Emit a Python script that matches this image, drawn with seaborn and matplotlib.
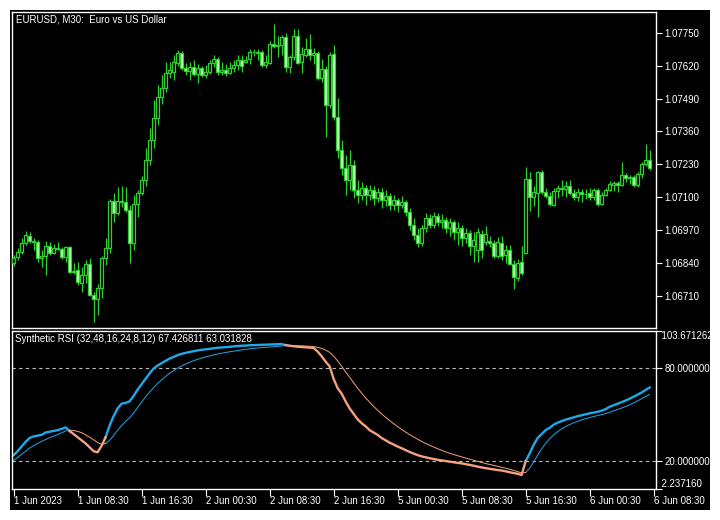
import numpy as np
import pandas as pd
import matplotlib
matplotlib.use('Agg')
import matplotlib.pyplot as plt
import seaborn as sns
from matplotlib.patches import Rectangle

# Data: EURUSD M30 candles
open_ = [1.06840, 1.06864, 1.06884, 1.06919, 1.06947, 1.06927, 1.06923, 1.06860, 1.06868, 1.06907,
         1.06880, 1.06899, 1.06895, 1.06864, 1.06903, 1.06805, 1.06813, 1.06761, 1.06793, 1.06836,
         1.06714, 1.06698, 1.06741, 1.06860, 1.06899, 1.07085, 1.07038, 1.07085, 1.07081, 1.07050,
         1.06919, 1.07073, 1.07117, 1.07168, 1.07247, 1.07326, 1.07413, 1.07496, 1.07531, 1.07591,
         1.07595, 1.07630, 1.07670, 1.07610, 1.07599, 1.07614, 1.07587, 1.07610, 1.07583, 1.07595,
         1.07630, 1.07646, 1.07595, 1.07603, 1.07591, 1.07610, 1.07622, 1.07642, 1.07634, 1.07646,
         1.07674, 1.07672, 1.07674, 1.07622, 1.07630, 1.07705, 1.07697, 1.07701, 1.07733, 1.07614,
         1.07654, 1.07737, 1.07634, 1.07662, 1.07685, 1.07662, 1.07670, 1.07571, 1.07606, 1.07464,
         1.07666, 1.07417, 1.07287, 1.07215, 1.07168, 1.07227, 1.07129, 1.07109, 1.07136, 1.07109,
         1.07129, 1.07097, 1.07121, 1.07089, 1.07105, 1.07069, 1.07089, 1.07069, 1.07081, 1.07042,
         1.06990, 1.06951, 1.06919, 1.06978, 1.07018, 1.06990, 1.07026, 1.07002, 1.07010, 1.06978,
         1.07002, 1.06963, 1.06978, 1.06939, 1.06959, 1.06907, 1.06892, 1.06955, 1.06923, 1.06927,
         1.06919, 1.06868, 1.06919, 1.06872, 1.06892, 1.06836, 1.06781, 1.06844, 1.06880, 1.07172,
         1.07101, 1.07117, 1.07200, 1.07121, 1.07105, 1.07069, 1.07125, 1.07136, 1.07132, 1.07144,
         1.07117, 1.07101, 1.07121, 1.07113, 1.07117, 1.07101, 1.07129, 1.07073, 1.07109, 1.07129,
         1.07148, 1.07156, 1.07148, 1.07188, 1.07176, 1.07180, 1.07148, 1.07192, 1.07231, 1.07247]

close = [1.06860, 1.06884, 1.06919, 1.06951, 1.06927, 1.06923, 1.06860, 1.06868, 1.06907, 1.06880,
         1.06899, 1.06895, 1.06864, 1.06903, 1.06805, 1.06809, 1.06765, 1.06793, 1.06836, 1.06714,
         1.06698, 1.06741, 1.06860, 1.06899, 1.07085, 1.07038, 1.07085, 1.07081, 1.07050, 1.06919,
         1.07073, 1.07117, 1.07168, 1.07247, 1.07326, 1.07413, 1.07496, 1.07531, 1.07591, 1.07603,
         1.07634, 1.07670, 1.07610, 1.07599, 1.07614, 1.07587, 1.07610, 1.07583, 1.07595, 1.07630,
         1.07646, 1.07595, 1.07603, 1.07591, 1.07610, 1.07622, 1.07642, 1.07618, 1.07642, 1.07674,
         1.07672, 1.07670, 1.07622, 1.07634, 1.07705, 1.07697, 1.07701, 1.07733, 1.07614, 1.07654,
         1.07737, 1.07630, 1.07666, 1.07685, 1.07662, 1.07670, 1.07571, 1.07606, 1.07464, 1.07662,
         1.07417, 1.07287, 1.07215, 1.07168, 1.07227, 1.07129, 1.07109, 1.07136, 1.07109, 1.07129,
         1.07097, 1.07121, 1.07089, 1.07105, 1.07069, 1.07089, 1.07069, 1.07081, 1.07042, 1.06990,
         1.06951, 1.06919, 1.06978, 1.07018, 1.06990, 1.07026, 1.07002, 1.07010, 1.06978, 1.07002,
         1.06963, 1.06978, 1.06939, 1.06959, 1.06907, 1.06931, 1.06963, 1.06892, 1.06955, 1.06919,
         1.06868, 1.06923, 1.06868, 1.06892, 1.06836, 1.06785, 1.06840, 1.06801, 1.07172, 1.07101,
         1.07121, 1.07200, 1.07121, 1.07105, 1.07073, 1.07125, 1.07136, 1.07132, 1.07144, 1.07117,
         1.07101, 1.07121, 1.07113, 1.07111, 1.07101, 1.07129, 1.07073, 1.07109, 1.07129, 1.07152,
         1.07156, 1.07148, 1.07188, 1.07176, 1.07180, 1.07148, 1.07192, 1.07231, 1.07247, 1.07215]

high = [1.06872, 1.06899, 1.06939, 1.06967, 1.06963, 1.06939, 1.06931, 1.06892, 1.06927, 1.06923,
        1.06915, 1.06923, 1.06903, 1.06907, 1.06907, 1.06840, 1.06844, 1.06824, 1.06852, 1.06860,
        1.06726, 1.06757, 1.06868, 1.06939, 1.07093, 1.07117, 1.07140, 1.07144, 1.07140, 1.07069,
        1.07109, 1.07129, 1.07184, 1.07294, 1.07373, 1.07484, 1.07543, 1.07583, 1.07634, 1.07634,
        1.07662, 1.07682, 1.07678, 1.07630, 1.07634, 1.07642, 1.07626, 1.07618, 1.07622, 1.07642,
        1.07662, 1.07654, 1.07634, 1.07626, 1.07634, 1.07642, 1.07662, 1.07662, 1.07658, 1.07685,
        1.07685, 1.07685, 1.07682, 1.07662, 1.07717, 1.07784, 1.07737, 1.07741, 1.07749, 1.07662,
        1.07764, 1.07764, 1.07693, 1.07729, 1.07745, 1.07689, 1.07678, 1.07646, 1.07618, 1.07674,
        1.07701, 1.07492, 1.07326, 1.07267, 1.07287, 1.07247, 1.07168, 1.07160, 1.07148, 1.07148,
        1.07144, 1.07136, 1.07136, 1.07129, 1.07117, 1.07109, 1.07097, 1.07105, 1.07089, 1.07057,
        1.07018, 1.06978, 1.06990, 1.07038, 1.07034, 1.07042, 1.07038, 1.07034, 1.07022, 1.07018,
        1.07010, 1.07002, 1.06990, 1.06978, 1.06971, 1.06963, 1.06978, 1.06971, 1.06986, 1.06947,
        1.06931, 1.06943, 1.06947, 1.06911, 1.06911, 1.06852, 1.06856, 1.06907, 1.07219, 1.07200,
        1.07144, 1.07204, 1.07208, 1.07136, 1.07121, 1.07136, 1.07148, 1.07168, 1.07164, 1.07168,
        1.07132, 1.07136, 1.07132, 1.07132, 1.07136, 1.07136, 1.07136, 1.07121, 1.07136, 1.07164,
        1.07164, 1.07164, 1.07239, 1.07196, 1.07188, 1.07188, 1.07200, 1.07239, 1.07310, 1.07287]

low = [1.06828, 1.06852, 1.06876, 1.06911, 1.06919, 1.06892, 1.06844, 1.06824, 1.06793, 1.06872,
       1.06876, 1.06892, 1.06856, 1.06844, 1.06801, 1.06797, 1.06753, 1.06726, 1.06761, 1.06710,
       1.06607, 1.06635, 1.06702, 1.06832, 1.06880, 1.07002, 1.07030, 1.07061, 1.07042, 1.06840,
       1.06892, 1.07022, 1.07109, 1.07144, 1.07227, 1.07294, 1.07385, 1.07468, 1.07516, 1.07571,
       1.07563, 1.07618, 1.07603, 1.07583, 1.07563, 1.07579, 1.07551, 1.07575, 1.07571, 1.07587,
       1.07614, 1.07583, 1.07583, 1.07579, 1.07587, 1.07595, 1.07603, 1.07595, 1.07630, 1.07626,
       1.07658, 1.07642, 1.07614, 1.07610, 1.07626, 1.07689, 1.07654, 1.07662, 1.07595, 1.07591,
       1.07642, 1.07626, 1.07591, 1.07654, 1.07642, 1.07626, 1.07563, 1.07555, 1.07338, 1.07452,
       1.07405, 1.07255, 1.07188, 1.07109, 1.07129, 1.07097, 1.07077, 1.07089, 1.07069, 1.07089,
       1.07069, 1.07081, 1.07057, 1.07065, 1.07050, 1.07050, 1.07042, 1.07057, 1.07026, 1.06971,
       1.06931, 1.06903, 1.06907, 1.06963, 1.06978, 1.06978, 1.06986, 1.06978, 1.06959, 1.06947,
       1.06931, 1.06911, 1.06907, 1.06919, 1.06872, 1.06844, 1.06844, 1.06860, 1.06911, 1.06903,
       1.06860, 1.06860, 1.06852, 1.06840, 1.06832, 1.06737, 1.06769, 1.06793, 1.06876, 1.07046,
       1.07065, 1.07022, 1.07113, 1.07097, 1.07065, 1.07065, 1.07097, 1.07105, 1.07101, 1.07109,
       1.07089, 1.07085, 1.07081, 1.07093, 1.07089, 1.07089, 1.07065, 1.07069, 1.07105, 1.07125,
       1.07125, 1.07121, 1.07144, 1.07160, 1.07152, 1.07140, 1.07140, 1.07176, 1.07223, 1.07208]

# Synthetic RSI: main line and signal line
rsi_main = [24.0, 26.5, 29.5, 32.5, 35.0, 36.0, 36.5, 37.0, 38.5, 39.0,
            39.5, 40.0, 40.8, 41.8, 39.5, 37.5, 35.5, 33.5, 31.5, 29.0,
            26.5, 25.8, 30.0, 35.5, 43.0, 49.0, 54.0, 57.0, 57.5, 58.5,
            62.0, 66.0, 69.5, 73.0, 76.5, 79.5, 81.5, 83.0, 84.5, 86.0,
            87.0, 88.2, 89.0, 89.6, 90.2, 90.7, 91.2, 91.6, 91.9, 92.2,
            92.6, 92.9, 93.1, 93.3, 93.5, 93.8, 94.0, 94.2, 94.3, 94.5,
            94.6, 94.7, 94.8, 94.9, 95.0, 95.1, 95.2, 95.3, 94.6, 94.2,
            93.9, 93.6, 93.4, 93.2, 93.0, 92.8, 90.5, 87.5, 84.0, 81.0,
            73.0, 67.0, 63.5, 58.5, 54.0, 50.5, 47.0, 44.5, 42.5, 40.0,
            38.5, 37.0, 35.0, 33.5, 32.0, 30.8, 29.5, 28.4, 27.2, 26.0,
            25.0, 24.0, 23.2, 22.6, 22.0, 21.5, 21.0, 20.6, 20.2, 19.8,
            19.4, 19.0, 18.7, 18.2, 17.7, 17.2, 16.6, 16.1, 15.6, 15.2,
            14.8, 14.4, 14.1, 13.6, 13.0, 12.5, 12.0, 11.2, 20.0, 25.0,
            30.5, 35.0, 37.5, 40.0, 41.5, 43.5, 44.8, 45.8, 46.8, 47.5,
            48.2, 49.0, 49.6, 50.2, 50.8, 51.3, 51.8, 52.5, 53.5, 55.0,
            56.0, 57.0, 58.0, 59.0, 60.2, 61.5, 62.8, 64.2, 65.8, 67.426811]

rsi_signal = [20.6, 22.5, 24.5, 26.5, 28.5, 30.0, 31.5, 32.8, 34.0, 35.2,
              36.2, 37.2, 38.3, 39.5, 40.0, 39.8, 39.2, 38.4, 37.0, 35.5,
              33.8, 32.0, 31.0, 31.5, 33.5, 36.5, 40.0, 43.0, 45.5, 48.0,
              51.0, 54.5, 58.0, 61.5, 64.5, 67.2, 70.0, 72.3, 74.5, 76.5,
              78.2, 79.8, 81.2, 82.5, 83.6, 84.6, 85.5, 86.3, 87.0, 87.7,
              88.3, 88.9, 89.4, 89.9, 90.3, 90.7, 91.1, 91.5, 91.9, 92.2,
              92.5, 92.8, 93.0, 93.2, 93.4, 93.6, 93.8, 94.0, 94.7, 94.4,
              94.3, 94.2, 94.1, 94.0, 93.9, 93.7, 93.2, 92.5, 91.4, 90.0,
              87.5, 84.5, 81.0, 77.5, 74.0, 70.5, 67.0, 63.8, 60.8, 58.0,
              55.3, 52.8, 50.5, 48.2, 46.2, 44.2, 42.3, 40.5, 38.8, 37.2,
              35.7, 34.2, 32.8, 31.5, 30.3, 29.2, 28.1, 27.1, 26.1, 25.2,
              24.4, 23.6, 22.9, 22.1, 21.4, 20.7, 20.0, 19.3, 18.6, 18.0,
              17.4, 16.8, 16.2, 15.6, 14.9, 14.2, 13.4, 12.5, 12.8, 15.5,
              19.5, 24.0, 28.0, 31.5, 34.5, 37.0, 39.0, 40.8, 42.3, 43.6,
              44.7, 45.7, 46.6, 47.4, 48.1, 48.8, 49.4, 50.0, 50.7, 51.5,
              52.4, 53.3, 54.2, 55.2, 56.3, 57.5, 58.8, 60.2, 61.6, 63.031828]

price_ticks = [1.06710, 1.06840, 1.06970, 1.07100, 1.07230, 1.07360, 1.07490, 1.07620, 1.07750]
time_ticks = [0, 16, 32, 48, 64, 80, 96, 112, 128, 144, 160]
time_labels = ['1 Jun 2023', '1 Jun 08:30', '1 Jun 16:30', '2 Jun 00:30', '2 Jun 08:30',
               '2 Jun 16:30', '5 Jun 00:30', '5 Jun 08:30', '5 Jun 16:30', '6 Jun 00:30',
               '6 Jun 08:30']
rsi_min, rsi_max = 2.237160, 103.671262

GREEN = '#2fd12f'
BEAR_FILL = '#c8f8c8'
BLUE = '#1fa9e8'
SALMON = '#f5a283'
WHITE = 'white'

plt.rcParams['font.family'] = ['Liberation Sans', 'DejaVu Sans']
FS = 7

df = pd.DataFrame({'open': open_, 'high': high, 'low': low, 'close': close,
                   'rsi': rsi_main, 'signal': rsi_signal})
df['bar'] = np.arange(len(df))

fig = plt.figure(figsize=(7.2, 5.2), dpi=100, facecolor='white')
# black chart window inside a thin white margin
fig.patches.append(Rectangle((10 / 720, 10 / 520), 700 / 720, 500 / 520,
                             transform=fig.transFigure, facecolor='black',
                             edgecolor='none', zorder=-10))

ax1 = fig.add_axes([12 / 720, 1 - 328 / 520, 644 / 720, 316 / 520])
ax2 = fig.add_axes([12 / 720, 1 - 489 / 520, 644 / 720, 158 / 520])

for ax in (ax1, ax2):
    ax.set_facecolor('black')
    for sp in ax.spines.values():
        sp.set_color(WHITE)
        sp.set_linewidth(1)
    ax.set_xlim(-0.4, 160.6)

# Candles
up = df['close'] >= df['open']
body_lo = np.minimum(df['open'], df['close'])
body_h = (df['close'] - df['open']).abs()
ax1.vlines(df['bar'], df['low'], df['high'], color=GREEN, lw=0.9, zorder=2)
ax1.bar(df['bar'][up], body_h[up], bottom=body_lo[up], width=0.62,
        facecolor='black', edgecolor=GREEN, lw=0.9, zorder=3)
ax1.bar(df['bar'][~up], body_h[~up], bottom=body_lo[~up], width=0.62,
        facecolor=BEAR_FILL, edgecolor=GREEN, lw=0.9, zorder=3)

ax1.set_ylim(1.06583, 1.07832)
ax1.yaxis.tick_right()
ax1.set_yticks(price_ticks)
ax1.set_yticklabels([f'{v:.5f}' for v in price_ticks])
ax1.set_xticks([])
ax1.tick_params(axis='y', colors=WHITE, labelsize=FS, length=4, width=0.8, pad=2)
ax1.text(4 / 644, 1 - 7 / 316, 'EURUSD, M30:  Euro vs US Dollar', transform=ax1.transAxes,
         color=WHITE, fontsize=FS, ha='left', va='center')


# RSI lines split into coloured runs
def runs(values, flags):
    rows = []
    seg = 0
    for i, v in enumerate(values):
        if i > 0 and flags[i] != flags[i - 1]:
            rows.append((i, v, seg, flags[i - 1]))
            seg += 1
        rows.append((i, v, seg, flags[i]))
    return pd.DataFrame(rows, columns=['bar', 'val', 'seg', 'dir'])


flags = np.where(df['rsi'] >= df['signal'], 'up', 'down')
pal = {'up': BLUE, 'down': SALMON}

ax2.axhline(80, color='#bdbdbd', lw=0.8, ls=(0, (3, 3)), zorder=1)
ax2.axhline(20, color='#bdbdbd', lw=0.8, ls=(0, (3, 3)), zorder=1)

sns.lineplot(data=runs(rsi_signal, flags), x='bar', y='val', hue='dir', units='seg',
             estimator=None, sort=False, palette=pal, linewidth=0.7, legend=False, ax=ax2)
sns.lineplot(data=runs(rsi_main, flags), x='bar', y='val', hue='dir', units='seg',
             estimator=None, sort=False, palette=pal, linewidth=1.7, legend=False, ax=ax2)

ax2.set_xlabel('')
ax2.set_ylabel('')
ax2.set_ylim(rsi_min, rsi_max)
ax2.set_xlim(-0.4, 160.6)
ax2.yaxis.tick_right()
ax2.set_yticks([rsi_min, 20, 80, rsi_max])
ax2.set_yticklabels(['', '20.000000', '80.000000', ''])
ax2.tick_params(axis='y', colors=WHITE, labelsize=FS, length=4, width=0.8, pad=2)
ax2.text(1.0, 1.0, '  103.671262', transform=ax2.transAxes, color=WHITE,
         fontsize=FS, ha='left', va='top')
ax2.text(1.0, 0.0, '  2.237160', transform=ax2.transAxes, color=WHITE,
         fontsize=FS, ha='left', va='bottom')
ax2.set_xticks(time_ticks)
ax2.set_xticklabels(time_labels)
for lab in ax2.get_xticklabels():
    lab.set_ha('left')
ax2.tick_params(axis='x', colors=WHITE, labelsize=FS, length=5, width=0.8, pad=0)
ax2.text(3 / 644, 1 - 8 / 158, 'Synthetic RSI (32,48,16,24,8,12) 67.426811 63.031828',
         transform=ax2.transAxes, color=WHITE, fontsize=FS, ha='left', va='center')

fig.savefig('out.png', dpi=100, facecolor='white')
